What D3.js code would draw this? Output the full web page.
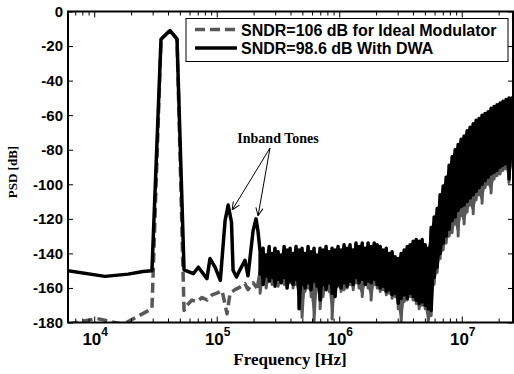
<!DOCTYPE html>
<html><head><meta charset="utf-8">
<script src="https://cdn.jsdelivr.net/npm/d3@7/dist/d3.min.js"></script>
<style>body{margin:0;background:#fff}svg{display:block}</style>
</head><body><svg id="c" width="514" height="374"></svg>
<script>
// ---------- data ----------
const yTicks = [0,-20,-40,-60,-80,-100,-120,-140,-160,-180];
const xTicks = [1e4,1e5,1e6,1e7];
const xTickExp = ["4","5","6","7"];
const seriesNames = ["SNDR=106 dB for Ideal Modulator","SNDR=98.6 dB With DWA"];
const annotationText = "Inband Tones";
const tonesF = [1.24e5, 2.094e5];
const tonesDb = [-112, -120];

// DWA (solid) – low-frequency part
const dwaF  = [6.11e3,1.225e4,1.89e4,2.5e4,2.96e4,3.51e4,4.16e4,4.74e4,5.41e4,6.44e4,7.08e4,8.32e4,8.81e4,9.69e4,1.07e5,1.17e5,1.24e5,1.32e5,1.36e5,1.45e5,1.54e5,1.70e5,1.80e5,1.98e5,2.094e5,2.17e5];
const dwaDb = [-150,-153.3,-152,-150.5,-150,-16,-11,-16,-149.5,-151.7,-148,-154.6,-143,-148,-155.6,-121,-112,-122,-149.8,-153.7,-149.8,-144,-153,-127,-120,-127];

// Ideal (dashed) – low-frequency part
const idealF  = [6.11e3,1.05e4,1.72e4,2.96e4,3.51e4,4.16e4,4.74e4,5.41e4,5.72e4,6.28e4,6.9e4,7.59e4,8.34e4,9.16e4,1.005e5,1.105e5,1.214e5,1.285e5,1.41e5,1.55e5,1.70e5,1.80e5,1.98e5,2.13e5];
const idealDb = [-181,-177.7,-181,-172,-16,-11,-16,-173,-170,-167,-168,-165.5,-167,-164,-163,-161.5,-175,-163,-161,-159.5,-157.5,-161,-157,-160];

// high-frequency dense region: frequency grid, upper / lower envelope of each trace
const denseF = [2.26e5,2.39e5,2.53e5,2.68e5,2.83e5,2.99e5,3.17e5,3.35e5,3.55e5,3.75e5,3.97e5,4.20e5,4.44e5,4.70e5,4.97e5,5.26e5,5.57e5,5.89e5,6.23e5,6.59e5,6.98e5,7.38e5,7.81e5,8.26e5,8.74e5,9.25e5,9.78e5,1.035e6,1.095e6,1.16e6,1.225e6,1.30e6,1.37e6,1.45e6,1.54e6,1.63e6,1.72e6,1.82e6,1.93e6,2.04e6,2.16e6,2.28e6,2.42e6,2.56e6,2.70e6,2.86e6,3.03e6,3.20e6,3.39e6,3.59e6,3.79e6,4.01e6,4.25e6,4.49e6,4.75e6,5.03e6,5.32e6,5.63e6,5.95e6,6.30e6,6.66e6,7.05e6,7.46e6,7.89e6,8.35e6,8.83e6,9.34e6,9.88e6,1.045e7,1.106e7,1.17e7,1.24e7,1.31e7,1.385e7,1.465e7,1.55e7,1.64e7,1.735e7,1.835e7,1.94e7,2.055e7,2.17e7,2.30e7,2.43e7,2.56e7];
const dwaHi = [-139,-137,-141,-136,-140,-137,-139,-141,-136,-138,-137,-140,-136,-138,-137,-140,-136,-139,-137,-141,-137,-138,-136,-139,-137,-138,-136,-138,-135,-137,-135,-138,-134,-136,-134,-137,-134,-136,-134,-135,-136,-138,-137,-140,-139,-142,-143,-140,-138,-136,-135,-133,-132,-133,-132,-135,-137,-125,-119,-114,-106,-101,-96,-89,-84,-80,-77,-74,-72,-69,-67,-65,-63,-62,-60,-59,-58,-56,-55,-54,-53,-52,-51,-50,-50];
const dwaLo = [-152,-158,-153,-156,-154,-159,-155,-157,-154,-160,-156,-158,-155,-172,-158,-160,-157,-161,-156,-159,-167,-158,-161,-157,-163,-165,-158,-160,-157,-159,-156,-158,-154,-157,-155,-158,-156,-157,-155,-158,-160,-159,-162,-161,-164,-163,-169,-166,-164,-166,-163,-165,-167,-169,-168,-170,-172,-173,-154,-148,-140,-134,-130,-126,-121,-119,-115,-113,-112,-110,-108,-106,-104,-102,-100,-98,-96,-94,-93,-92,-90,-89,-88,-97,-86];
const idealHi = [-150,-148,-150,-147,-149,-147,-149,-146,-148,-146,-147,-145,-147,-145,-146,-144,-146,-144,-146,-144,-145,-143,-145,-143,-144,-142,-144,-142,-143,-141,-143,-141,-142,-140,-142,-140,-142,-140,-141,-140,-141,-142,-143,-144,-145,-146,-147,-146,-144,-142,-141,-140,-139,-139,-140,-142,-143,-130,-124,-118,-110,-105,-100,-93,-88,-84,-81,-78,-76,-73,-71,-69,-67,-66,-64,-63,-62,-60,-59,-58,-57,-56,-55,-54,-54];
const idealLo = [-163,-157,-160,-156,-158,-156,-159,-157,-158,-160,-157,-160,-158,-170,-177,-162,-160,-165,-179,-161,-172,-165,-160,-162,-178,-163,-159,-162,-161,-160,-158,-161,-157,-160,-165,-158,-160,-167,-158,-160,-162,-161,-164,-163,-166,-165,-172,-180,-168,-167,-165,-167,-169,-172,-170,-172,-180,-176,-158,-151,-143,-138,-134,-130,-128,-123,-130,-118,-123,-116,-112,-117,-109,-106,-111,-102,-100,-105,-97,-95,-94,-92,-91,-99,-90];

// ---------- layout ----------
const L = 68, R = 513, T = 11.5, B = 322.5;
const svg = d3.select("#c");
const x = d3.scaleLog().domain([6.11e3, 2.62e7]).range([L, R]);
const y = d3.scaleLinear().domain([-180, 0]).range([B, T]);
const sans = "'Liberation Sans', Arial, sans-serif";
const serif = "'Liberation Serif', 'Times New Roman', serif";

svg.append("defs").append("clipPath").attr("id","clip")
  .append("rect").attr("x",L).attr("y",T).attr("width",R-L).attr("height",B-T);

const line = d3.line().x(d => x(d[0])).y(d => y(d[1]));
const band = d3.area().x((d,i) => x(denseF[i])).y0(d => y(d[1])).y1(d => y(d[0]));
function dense(hi, lo){ const p=[]; denseF.forEach((f,i)=>{p.push([f,hi[i]]);p.push([f,lo[i]]);}); return p; }

const plot = svg.append("g").attr("clip-path","url(#clip)");
const grayCol = "#585858";
// ideal, dashed low-frequency part
const idealPts = idealF.map((f,i)=>[f,idealDb[i]]);
plot.append("path").attr("d", line(idealPts)).attr("fill","none")
  .attr("stroke",grayCol).attr("stroke-width",3.5).attr("stroke-dasharray","10,5").attr("stroke-linejoin","round");
plot.append("path").attr("d", band(denseF.map((f,i)=>[idealHi[i], idealLo[i]]))).attr("fill",grayCol);
plot.append("path").attr("d", line([idealPts[idealPts.length-1]].concat(dense(idealHi, idealLo)))).attr("fill","none")
  .attr("stroke",grayCol).attr("stroke-width",3).attr("stroke-linejoin","round");
// DWA solid
const dwaPts = dwaF.map((f,i)=>[f,dwaDb[i]]).concat(dense(dwaHi, dwaLo));
plot.append("path").attr("d", band(denseF.map((f,i)=>[dwaHi[i], dwaLo[i]]))).attr("fill","#000");
plot.append("path").attr("d", line(dwaPts)).attr("fill","none")
  .attr("stroke","#000").attr("stroke-width",3.5).attr("stroke-linejoin","round");

// ---------- axes ----------
const minor = [];
for (let d = 3; d <= 7; d++) for (let m = 2; m <= 9; m++) { const f = m*Math.pow(10,d); if (f > 6.11e3 && f < 2.62e7) minor.push(f); }
const ax = svg.append("g");
function xt(vals, len){
  ax.append("g").attr("transform",`translate(0,${B})`).call(d3.axisBottom(x).tickValues(vals).tickSize(-len).tickFormat("")).call(g=>g.select(".domain").remove());
  ax.append("g").attr("transform",`translate(0,${T})`).call(d3.axisTop(x).tickValues(vals).tickSize(-len).tickFormat("")).call(g=>g.select(".domain").remove());
}
xt(xTicks, 6); xt(minor, 4);
ax.append("g").attr("transform",`translate(${L},0)`).call(d3.axisLeft(y).tickValues(yTicks).tickSize(-5).tickFormat("")).call(g=>g.select(".domain").remove());
ax.append("g").attr("transform",`translate(${R},0)`).call(d3.axisRight(y).tickValues(yTicks).tickSize(-5).tickFormat("")).call(g=>g.select(".domain").remove());
ax.selectAll("line").attr("stroke","#000").attr("stroke-width",1);
svg.append("rect").attr("x",L).attr("y",T).attr("width",R-L).attr("height",B-T)
  .attr("fill","none").attr("stroke","#000").attr("stroke-width",2);

// y labels
svg.append("g").selectAll("text").data(yTicks).join("text")
  .attr("x", L-5).attr("y", d=>y(d)).attr("dy","0.36em").attr("text-anchor","end")
  .attr("font-family",sans).attr("font-weight","bold").attr("font-size",15).text(d=>d);
// x labels with superscripts
xTicks.forEach((t,i)=>{
  const tx = svg.append("text").attr("x", x(t)+1).attr("y", 345).attr("text-anchor","middle")
    .attr("font-family",sans).attr("font-weight","bold").attr("font-size",17);
  tx.append("tspan").text("10");
  tx.append("tspan").attr("dy",-9).attr("font-size",12).text(xTickExp[i]);
});
svg.append("text").attr("x",290).attr("y",365).attr("text-anchor","middle")
  .attr("font-family",serif).attr("font-weight","bold").attr("font-size",17).text("Frequency [Hz]");
svg.append("text").attr("transform",`translate(17,${(T+B)/2+5}) rotate(-90)`).attr("text-anchor","middle")
  .attr("font-family",serif).attr("font-weight","bold").attr("font-size",13).text("PSD [dB]");

// ---------- legend ----------
const lg = svg.append("g");
lg.append("rect").attr("x",186).attr("y",18.5).attr("width",322).attr("height",43)
  .attr("fill","#fff").attr("stroke","#000").attr("stroke-width",1);
lg.append("line").attr("x1",195).attr("x2",237).attr("y1",29.5).attr("y2",29.5)
  .attr("stroke",grayCol).attr("stroke-width",3.5).attr("stroke-dasharray","10,5");
lg.append("line").attr("x1",195).attr("x2",237).attr("y1",48).attr("y2",48)
  .attr("stroke","#000").attr("stroke-width",3.5);
lg.selectAll("text").data(seriesNames).join("text")
  .attr("x",241).attr("y",(d,i)=>36+i*17.5)
  .attr("font-family",sans).attr("font-weight","bold").attr("font-size",16).text(d=>d);

// ---------- annotation ----------
svg.append("defs").append("marker").attr("id","arr").attr("viewBox","0 0 10 10").attr("refX",10).attr("refY",5)
  .attr("markerWidth",8).attr("markerHeight",8).attr("markerUnits","userSpaceOnUse").attr("orient","auto")
  .append("path").attr("d","M0,0.5 L10,5 L0,9.5").attr("fill","none").attr("stroke","#000").attr("stroke-width",1.2);
svg.append("text").attr("x",278).attr("y",143).attr("text-anchor","middle")
  .attr("font-family",serif).attr("font-weight","bold").attr("font-size",14).text(annotationText);
const tipOff = [[4,5],[2,-3]];
tonesF.forEach((f,i)=>{
  svg.append("line").attr("x1",270).attr("y1",148)
    .attr("x2",x(f)+tipOff[i][0]).attr("y2",y(tonesDb[i])+tipOff[i][1])
    .attr("stroke","#000").attr("stroke-width",1).attr("marker-end","url(#arr)");
});
</script></body></html>
